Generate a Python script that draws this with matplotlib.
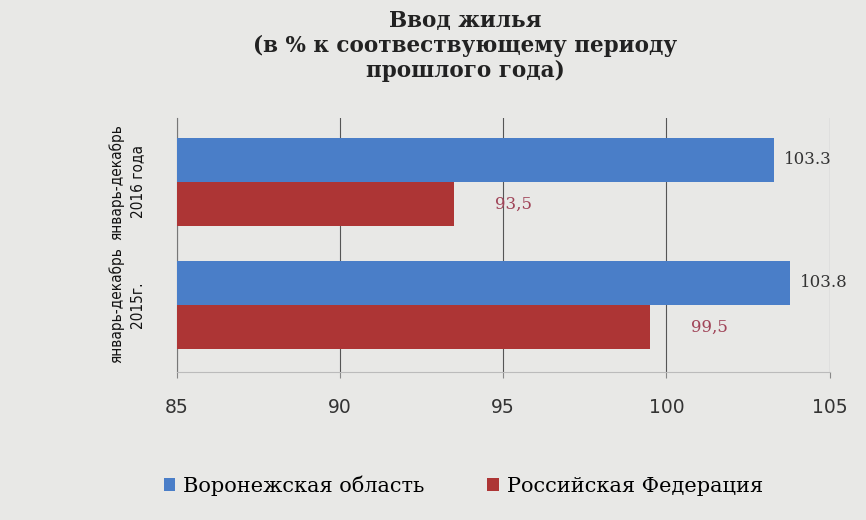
import matplotlib
matplotlib.use("Agg")
import matplotlib.pyplot as plt
import numpy as np

# data
periods = ["январь-декабрь\n2015г.", "январь-декабрь\n2016 года"]
voronezh = [103.8, 103.3]
russia = [99.5, 93.5]
voronezh_labels = ["103.8", "103.3"]
russia_labels = ["99,5", "93,5"]
x_ticks = [85, 90, 95, 100, 105]

BLUE = "#4a7ec8"
RED = "#ad3535"
SERIF = ["DejaVu Serif"]

fig = plt.figure(figsize=(8.66, 5.2), dpi=100, facecolor="#e8e8e6")
ax = fig.add_axes([0.204, 0.285, 0.754, 0.488])
ax.set_facecolor("none")

y = np.arange(len(periods))
h = 0.36
ax.barh(y + h / 2, voronezh, height=h, left=0, color=BLUE, label="Воронежская область", zorder=3)
ax.barh(y - h / 2, russia, height=h, left=0, color=RED, label="Российская Федерация", zorder=3)

for yi, v, t in zip(y, voronezh, voronezh_labels):
    ax.text(v + 0.3, yi + h / 2, t, va="center", ha="left", fontsize=12,
            family=SERIF, color="#333333", clip_on=False)
for yi, v, t in zip(y, russia, russia_labels):
    ax.text(v + 1.25, yi - h / 2, t, va="center", ha="left", fontsize=12,
            family=SERIF, color="#a04458")

ax.set_xlim(85, 105)
ax.set_ylim(-0.545, 1.52)
ax.set_xticks(x_ticks)
ax.set_xticklabels([str(t) for t in x_ticks], fontsize=13.5, color="#333333")
ax.tick_params(axis="x", length=4, color="#888888", pad=15)
ax.set_yticks(y)
ax.set_yticklabels(periods, rotation=90, va="center", ha="center", fontsize=11,
                   family="DejaVu Sans", fontstretch="condensed", linespacing=1.5,
                   color="#111111")
ax.tick_params(axis="y", length=0, pad=36)

ax.grid(axis="x", color="#555555", linewidth=0.8, zorder=0)
for s in ["top", "right"]:
    ax.spines[s].set_visible(False)
ax.spines["left"].set_color("#777777")
ax.spines["bottom"].set_color("#bbbbbb")

fig.text(0.537, 0.98, "Ввод жилья\n(в % к соотвествующему периоду\nпрошлого года)",
         ha="center", va="top", fontsize=15.5, fontweight="bold", family=SERIF,
         linespacing=1.15, color="#222222")

fig.legend(loc="lower center", bbox_to_anchor=(0.535, 0.01), ncol=2, frameon=False,
           prop={"family": SERIF, "size": 15}, handlelength=0.55, handleheight=0.55,
           handletextpad=0.4, columnspacing=3.0)

plt.savefig("out.png", dpi=100, facecolor=fig.get_facecolor())
